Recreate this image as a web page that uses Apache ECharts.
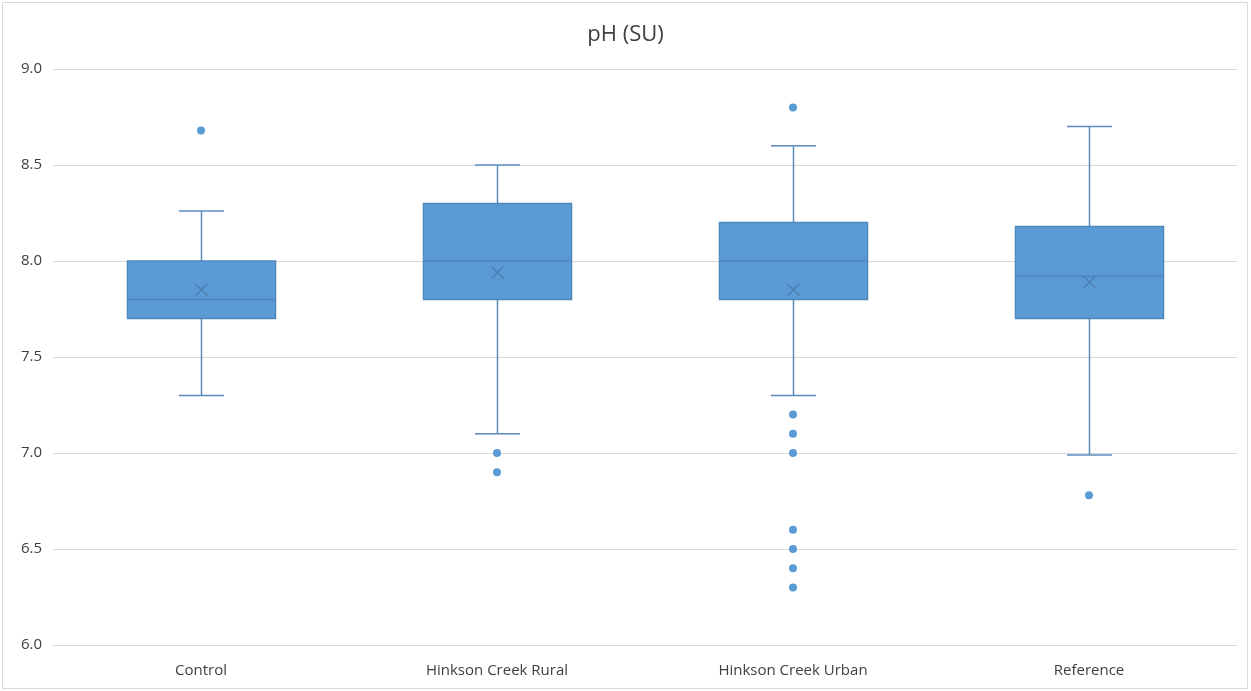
<!DOCTYPE html>
<html>
<head>
<meta charset="utf-8">
<script src="https://cdn.jsdelivr.net/npm/echarts@6/dist/echarts.min.js"></script>
<style>
html,body{margin:0;padding:0;background:#fff;}
#c{width:1251px;height:691px;}
</style>
</head>
<body>
<div id="c"></div>
<script>
const categories = ['Control', 'Hinkson Creek Rural', 'Hinkson Creek Urban', 'Reference'];
// [whisker low, Q1, median, Q3, whisker high]
const boxStats = [
  [7.30, 7.70, 7.80, 8.00, 8.26],
  [7.10, 7.80, 8.00, 8.30, 8.50],
  [7.30, 7.80, 8.00, 8.20, 8.60],
  [6.99, 7.70, 7.92, 8.18, 8.70]
];
const means = [7.85, 7.94, 7.85, 7.89];
const outliers = [
  [8.68],
  [7.00, 6.90],
  [8.80, 7.20, 7.10, 7.00, 6.60, 6.50, 6.40, 6.30],
  [6.78]
];
const yTicks = { min: 6, max: 9, interval: 0.5 };

const boxData = boxStats.map((s, i) => [i, s[0], s[1], s[2], s[3], s[4], means[i]]);
const outlierData = [];
outliers.forEach((arr, i) => arr.forEach(v => outlierData.push([i, v])));

const fill = '#5B9BD5';
const edge = '#4E86BB';
const lineCol = '#5B8CBE';

const chart = echarts.init(document.getElementById('c'));
chart.setOption({
  animation: false,
  backgroundColor: '#fff',
  title: {
    text: 'pH (SU)', left: 'center', top: 19, padding: [5, 5, 5, 15],
    textStyle: { fontFamily: 'Open Sans', fontSize: 22, fontWeight: 'normal', color: '#404040' }
  },
  graphic: [{
    type: 'rect', silent: true, z: -1,
    shape: { x: 2.5, y: 2.5, width: 1245, height: 686 },
    style: { fill: 'none', stroke: '#d9d9d9', lineWidth: 1 }
  }],
  grid: { left: 53, right: 14, top: 69, bottom: 46 },
  xAxis: {
    type: 'category', data: categories,
    axisLine: { lineStyle: { color: '#d9d9d9' } },
    axisTick: { show: false },
    axisLabel: { fontFamily: 'Open Sans', fontSize: 15, color: '#404040', margin: 18 },
    splitLine: { show: false }
  },
  yAxis: {
    type: 'value', min: yTicks.min, max: yTicks.max, interval: yTicks.interval,
    axisLine: { show: false }, axisTick: { show: false },
    axisLabel: { fontFamily: 'Open Sans', fontSize: 15, color: '#404040', margin: 11,
      formatter: v => v.toFixed(1) },
    splitLine: { lineStyle: { color: '#d9d9d9', width: 1 } }
  },
  series: [
    {
      type: 'custom',
      data: boxData,
      z: 3,
      renderItem: function (params, api) {
        const x = api.value(0);
        const band = api.size([1, 0])[0];
        const bw = band * 0.5;
        const cw = band * 0.152;
        const pLow = api.coord([x, api.value(1)]);
        const pQ1 = api.coord([x, api.value(2)]);
        const pMed = api.coord([x, api.value(3)]);
        const pQ3 = api.coord([x, api.value(4)]);
        const pHigh = api.coord([x, api.value(5)]);
        const pMean = api.coord([x, api.value(6)]);
        const cx = Math.round(pMed[0]) + 0.5;
        const ls = { stroke: lineCol, lineWidth: 1.5 };
        const m = 6;
        return {
          type: 'group',
          children: [
            { type: 'line', shape: { x1: cx, y1: pHigh[1], x2: cx, y2: pQ3[1] }, style: ls },
            { type: 'line', shape: { x1: cx, y1: pQ1[1], x2: cx, y2: pLow[1] }, style: ls },
            { type: 'line', shape: { x1: cx - cw / 2, y1: pHigh[1], x2: cx + cw / 2, y2: pHigh[1] }, style: ls },
            { type: 'line', shape: { x1: cx - cw / 2, y1: pLow[1], x2: cx + cw / 2, y2: pLow[1] }, style: ls },
            { type: 'rect', shape: { x: cx - bw / 2, y: pQ3[1], width: bw, height: pQ1[1] - pQ3[1] },
              style: { fill: fill, stroke: edge, lineWidth: 1.5 } },
            { type: 'line', shape: { x1: cx - bw / 2, y1: pMed[1], x2: cx + bw / 2, y2: pMed[1] },
              style: { stroke: edge, lineWidth: 1.5 } },
            { type: 'line', shape: { x1: cx - m, y1: pMean[1] - m, x2: cx + m, y2: pMean[1] + m },
              style: { stroke: '#4A7DAF', lineWidth: 1.3 } },
            { type: 'line', shape: { x1: cx - m, y1: pMean[1] + m, x2: cx + m, y2: pMean[1] - m },
              style: { stroke: '#4A7DAF', lineWidth: 1.3 } }
          ]
        };
      }
    },
    {
      type: 'scatter',
      data: outlierData,
      symbol: 'circle',
      symbolSize: 8,
      z: 4,
      itemStyle: { color: fill, opacity: 1 }
    }
  ]
});
</script>
</body>
</html>
